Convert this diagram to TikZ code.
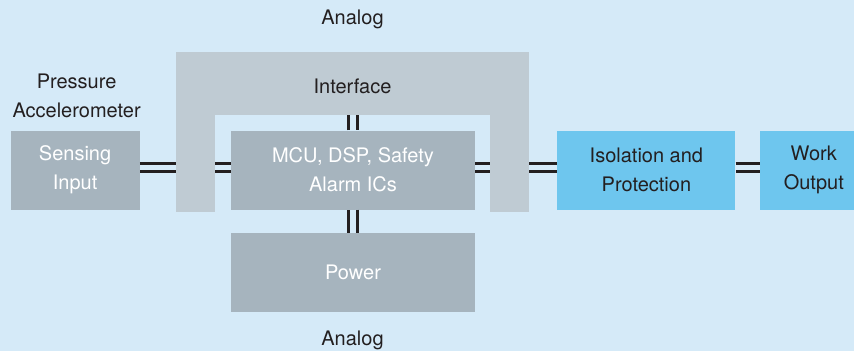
\documentclass[tikz,border=0pt]{standalone}
\usepackage{fontspec}
\setmainfont{TeX Gyre Heros}
\usetikzlibrary{positioning}
\definecolor{bgblue}{RGB}{213,234,248}
\definecolor{ifgray}{RGB}{191,203,211}
\definecolor{boxgray}{RGB}{166,180,190}
\definecolor{isoblue}{RGB}{110,198,238}
\definecolor{ink}{RGB}{35,31,32}
\begin{document}
\begin{tikzpicture}[x=1pt,y=-1pt,font=\fontsize{20}{29}\selectfont,text=ink,
    node distance=23pt,
    box/.style={fill=boxgray,text=white,align=center,inner sep=0pt,minimum width=244,minimum height=79},
    isobox/.style={box,fill=isoblue,text=ink},
    arm/.style={fill=ifgray,inner sep=0pt,minimum width=39,minimum height=160},
    link/.style={draw=ink,line width=3,double=bgblue,double distance=5.3}]
  \clip (0,0) rectangle (854,351);
  \fill[bgblue] (0,0) rectangle (854,351);
  % interface frame
  \node[arm] (armL) at (195.5,132) {};
  \node[arm] (armR) at (509.5,132) {};
  \node[fill=ifgray,inner sep=0pt,minimum width=353,minimum height=63,text height=20.5pt,text depth=0pt] (bar) at (352.5,83.5) {Interface};
  % blocks
  \node[box] (mcu) at (353,170) {MCU, DSP, Safety\\Alarm ICs};
  \node[box,minimum width=129,left=91pt of mcu] (sense) {Sensing\\Input};
  \node[box,below=of mcu] (power) {Power};
  \node[isobox,minimum width=178,right=82pt of mcu] (iso) {Isolation and\\Protection};
  \node[isobox,minimum width=108,right=24pt of iso] (work) {Work\\Output};
  \node[align=center,inner sep=0pt,above=12pt of sense,xshift=1.5pt] (sensor) {Pressure\\Accelerometer};
  \node (antop) at (352.5,19.5) {Analog};
  \node (anbot) at (352.5,340) {Analog};
  % connectors
  \coordinate (mid) at ([yshift=2.7pt]mcu.center);
  \foreach \a/\b in {sense.east/armL.west, armL.east/mcu.west, mcu.east/armR.west, armR.east/iso.west, iso.east/work.west} {
    \draw[link] (\a |- mid) -- (\b |- mid);
  }
  \draw[link] (mcu.north) -- (mcu.north |- bar.south);
  \draw[link] (mcu) -- (power);
\end{tikzpicture}
\end{document}
